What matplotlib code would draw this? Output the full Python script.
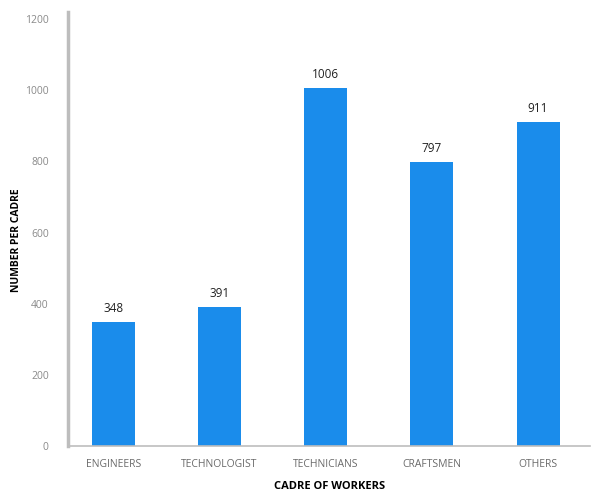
import matplotlib
matplotlib.use("Agg")
import matplotlib.pyplot as plt

cadres = ["ENGINEERS", "TECHNOLOGIST", "TECHNICIANS", "CRAFTSMEN", "OTHERS"]
counts = [348, 391, 1006, 797, 911]
y_ticks = [0, 200, 400, 600, 800, 1000, 1200]

plt.rcParams['font.family'] = ['Open Sans', 'DejaVu Sans']

fig = plt.figure(figsize=(6.09, 4.93), dpi=100)
ax = fig.add_axes([0.112, 0.095, 0.857, 0.881])

x_pos = list(range(len(cadres)))
bars = ax.bar(x_pos, counts, width=0.405, color='#1A8CEB')
for b, v in zip(bars, counts):
    ax.text(b.get_x() + b.get_width() / 2, v + 20, str(v),
            ha='center', va='bottom', fontsize=8.5, color='#222222')

ax.set_xlim(-0.424, 4.49)
ax.set_ylim(0, 1220)
ax.set_yticks(y_ticks)
ax.set_yticklabels([str(t) for t in y_ticks], fontsize=7.5, color='#8a8a8a')
ax.set_xticks(x_pos)
ax.set_xticklabels(cadres, fontsize=7.5, color='#6a6a6a')
ax.tick_params(axis='y', length=0, pad=14)
ax.tick_params(axis='x', length=0, pad=9)

for s in ['top', 'right']:
    ax.spines[s].set_visible(False)
ax.spines['left'].set_color('#bdbdbd')
ax.spines['left'].set_linewidth(2.5)
ax.spines['bottom'].set_color('#bdbdbd')
ax.spines['bottom'].set_linewidth(1.2)

ax.set_xlabel("CADRE OF WORKERS", fontsize=8, fontweight='bold', labelpad=8)
ax.set_ylabel("NUMBER PER CADRE", fontsize=7.5, fontweight='bold')
ax.yaxis.set_label_coords(-0.088, 0.475)

fig.savefig("out.png", dpi=100)
